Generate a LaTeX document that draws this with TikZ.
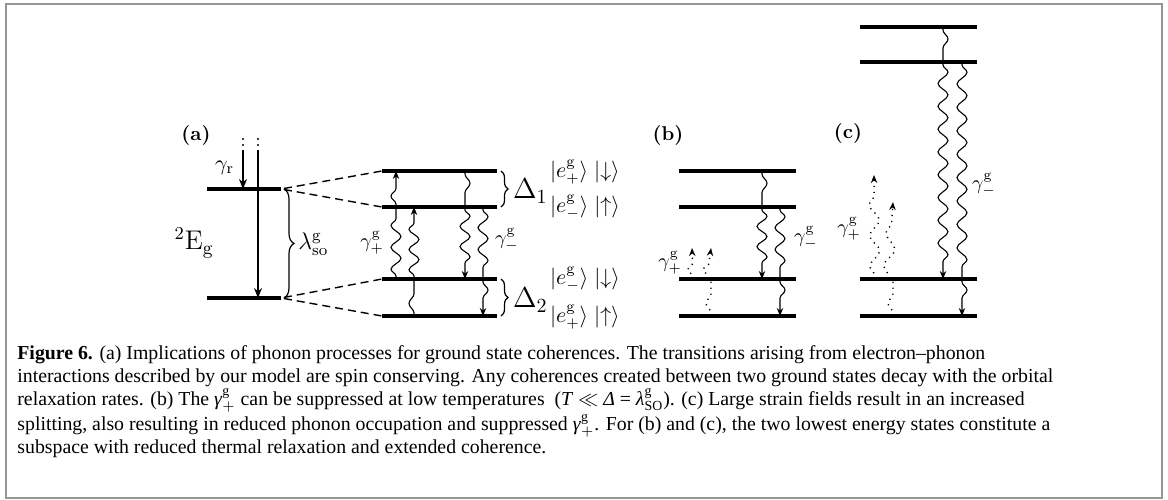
\documentclass[tikz,border=0pt]{standalone}
\usepackage{amsmath}
\usepackage{fontspec}
\newfontfamily\capfont{Liberation Serif}
\usetikzlibrary{decorations.pathmorphing,decorations.pathreplacing,arrows.meta}
\definecolor{framegray}{RGB}{150,150,150}
\begin{document}
\begin{tikzpicture}[x=0.5pt,y=-0.5pt,
  level/.style={line width=2pt},
  dashline/.style={dash pattern=on 4pt off 2.5pt, line width=0.7pt},
  wv/.style={decorate, decoration={snake, amplitude=2.5pt, segment length=#1, pre length=1.5pt, post length=1.5pt}, line width=0.55pt},
  wva/.style={wv=#1, decoration={post length=4pt}, -{Stealth[length=4pt,width=3.2pt]}},
  dwv/.style={wv=#1, line width=0.7pt, dash pattern=on 0.6pt off 2.4pt},
  dwva/.style={wva=#1, line width=0.7pt, dash pattern=on 0.6pt off 2.4pt},
  bigarrow/.style={line width=1pt, -{Stealth[length=5pt,width=4pt]}},
  brc/.style={decorate, decoration={brace, amplitude=#1}, line width=0.6pt},
  lab/.style={font=\bfseries},
  dot/.style={circle, fill, inner sep=0pt, minimum size=1.2pt}
]
\useasboundingbox (0,0) rectangle (1168,499);
\draw[framegray, line width=1pt] (6,3.5) rectangle (1161.5,497.5);

% ---------- (a) ----------
\node[lab] (la) at (196,135) {(a)};
\coordinate (aUL) at (207,189); \coordinate (aUR) at (281,189);
\coordinate (aDL) at (207,298); \coordinate (aDR) at (281,298);
\draw[level] (aUL) -- (aUR);
\draw[level] (aDL) -- (aDR);
\node (Eg) at (194,243) {\fontsize{13.5}{15}\selectfont $^2\mathrm{E}_\mathrm{g}$};
% vertical arrows
\coordinate (r1t) at (243,150); \coordinate (r2t) at (258,150);
\node[dot] (d1) at (243,139) {}; \node[dot] (d2) at (243,145) {};
\node[dot] (d3) at (258,139) {}; \node[dot] (d4) at (258,145) {};
\draw[bigarrow] (r1t) -- (r1t |- aUL);
\draw[bigarrow] (r2t) -- (r2t |- aDL);
\node[anchor=east, font=\fontsize{11}{13}\selectfont] (gr) at (241,168) {$\gamma_\mathrm{r}$};
\draw[brc=5pt] (284,189) -- (284,298);
\node[anchor=west, font=\large, inner sep=1pt] (lso) at (296,244) {$\lambda^\mathrm{g}_\mathrm{so}$};

\foreach \n/\y in {1/171,2/207,3/279,4/316}{
  \coordinate (a\n L) at (382,\y); \coordinate (a\n R) at (497,\y);
  \draw[level] (a\n L) -- (a\n R);
}
\draw[dashline, shorten <=1.5pt] (aUR) -- (a1L);
\draw[dashline, shorten <=1.5pt] (aUR) -- (a2L);
\draw[dashline, shorten <=1.5pt] (aDR) -- (a3L);
\draw[dashline, shorten <=1.5pt] (aDR) -- (a4L);

\coordinate (xa1) at (396,0); \coordinate (xa2) at (414,0);
\coordinate (xa3) at (465,0); \coordinate (xa4) at (483,0);
\draw[wv=10.9pt] (xa1|-a3L) -- (xa1|-a2L);
\draw[wva=12.4pt] (xa1|-a2L) -- (xa1|-a1L);
\draw[wv=15.4pt] (xa2|-a4L) -- (xa2|-a3L);
\draw[wva=10.1pt] (xa2|-a3L) -- (xa2|-a2L);
\draw[wv=14.9pt] (xa3|-a1L) -- (xa3|-a2L);
\draw[wva=10.1pt] (xa3|-a2L) -- (xa3|-a3L);
\draw[wv=10.9pt] (xa4|-a2L) -- (xa4|-a3L);
\draw[wva=12.9pt] (xa4|-a3L) -- (xa4|-a4L);
\node[anchor=east] (gpa) at (391,243) {$\gamma^\mathrm{g}_+$};
\node[anchor=west] (gma) at (488,240) {$\gamma^\mathrm{g}_-$};

\draw[brc=3.5pt] (501,171) -- (501,207);
\draw[brc=3.5pt] (501,279) -- (501,316);
\node[anchor=west, font=\Large] (D1) at (506,191) {$\Delta_1$};
\node[anchor=west, font=\Large] (D2) at (506,300) {$\Delta_2$};
\node[anchor=west, font=\fontsize{10.5}{12}\selectfont] (k1) at (543,172) {$|e^\mathrm{g}_+\rangle\;|{\downarrow}\rangle$};
\node[anchor=west, font=\fontsize{10.5}{12}\selectfont] (k2) at (543,207) {$|e^\mathrm{g}_-\rangle\;|{\uparrow}\rangle$};
\node[anchor=west, font=\fontsize{10.5}{12}\selectfont] (k3) at (543,279) {$|e^\mathrm{g}_-\rangle\;|{\downarrow}\rangle$};
\node[anchor=west, font=\fontsize{10.5}{12}\selectfont] (k4) at (543,317) {$|e^\mathrm{g}_+\rangle\;|{\uparrow}\rangle$};

% ---------- (b) ----------
\node[lab] (lb) at (668,135) {(b)};
\foreach \n/\y in {1/171,2/207,3/279,4/316}{
  \coordinate (b\n L) at (679,\y); \coordinate (b\n R) at (796,\y);
  \draw[level] (b\n L) -- (b\n R);
}
\coordinate (xb1) at (762,0); \coordinate (xb2) at (780,0);
\draw[wv=14.9pt] (xb1|-b1L) -- (xb1|-b2L);
\draw[wva=10.1pt] (xb1|-b2L) -- (xb1|-b3L);
\draw[wv=10.9pt] (xb2|-b2L) -- (xb2|-b3L);
\draw[wva=12.9pt] (xb2|-b3L) -- (xb2|-b4L);
\coordinate (xb3) at (693,0); \coordinate (xb4) at (707,0); \coordinate (xb5) at (711,0);
\coordinate (bt1) at (692,248); \coordinate (bt2) at (711,248);
\draw[dwva=9.9pt] (xb3|-b3L) -- (bt1);
\draw[dwva=9.9pt] (xb4|-b3L) -- (bt2);
\draw[dwv=15.4pt] (xb5|-b4L) -- (xb5|-b3L);
\node[anchor=west] (gmb) at (787,238) {$\gamma^\mathrm{g}_-$};
\node[anchor=east] (gpb) at (689,263) {$\gamma^\mathrm{g}_+$};

% ---------- (c) ----------
\node[lab] (lc) at (848,133) {(c)};
\foreach \n/\y in {1/27,2/62,3/279,4/316}{
  \coordinate (c\n L) at (860,\y); \coordinate (c\n R) at (977,\y);
  \draw[level] (c\n L) -- (c\n R);
}
\coordinate (xc1) at (943,0); \coordinate (xc2) at (962,0);
\draw[wv=14.4pt] (xc1|-c1L) -- (xc1|-c2L);
\draw[wva=11.4pt] (xc1|-c2L) -- (xc1|-c3L);
\draw[wv=11.7pt] (xc2|-c2L) -- (xc2|-c3L);
\draw[wva=12.9pt] (xc2|-c3L) -- (xc2|-c4L);
\coordinate (xc3) at (875,0); \coordinate (xc4) at (888,0); \coordinate (xc5) at (893,0);
\coordinate (ct1) at (874,175); \coordinate (ct2) at (893,202);
\draw[dwva=15.4pt] (xc3|-c3L) -- (ct1);
\draw[dwva=16.4pt] (xc4|-c3L) -- (ct2);
\draw[dwv=15.4pt] (xc5|-c4L) -- (xc5|-c3L);
\node[anchor=west] (gmc) at (965,185) {$\gamma^\mathrm{g}_-$};
\node[anchor=east] (gpc) at (868,229) {$\gamma^\mathrm{g}_+$};

% ---------- caption ----------
\node[anchor=north west, inner sep=0pt, align=left,
      font=\capfont\fontsize{9.9}{11.5}\selectfont] (caption) at (17,345)
{\textbf{Figure 6.} (a) Implications of phonon processes for ground state coherences. The transitions arising from electron–phonon\\
interactions described by our model are spin conserving. Any coherences created between two ground states decay with the orbital\\
relaxation rates. (b) The \textit{γ}$^{\text{g}}_{+}$ can be suppressed at low temperatures \ (\textit{T} $\ll$ \textit{Δ} = \textit{λ}$^{\text{g}}_{\text{SO}}$). (c) Large strain fields result in an increased\\
splitting, also resulting in reduced phonon occupation and suppressed \textit{γ}$^{\text{g}}_{+}$. For (b) and (c), the two lowest energy states constitute a\\
subspace with reduced thermal relaxation and extended coherence.};
\end{tikzpicture}
\end{document}
